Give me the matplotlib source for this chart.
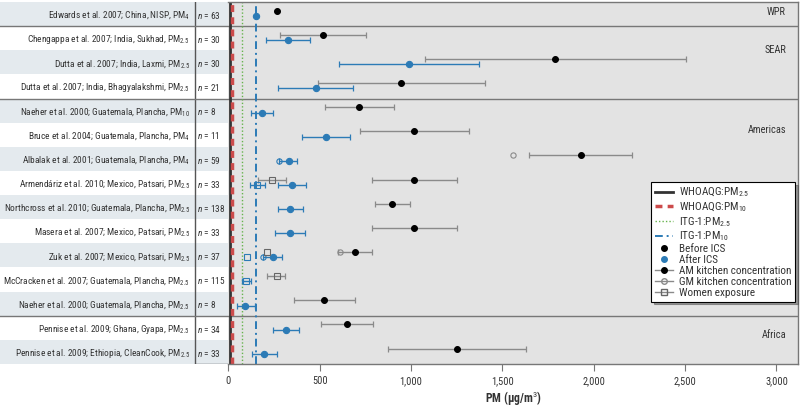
import numpy as np
import matplotlib
matplotlib.use("Agg")
import matplotlib.pyplot as plt
import matplotlib.transforms as mtransforms
from matplotlib import font_manager as fm
from matplotlib.lines import Line2D
from matplotlib.ticker import FuncFormatter

# pick a narrow face if one is installed, else plain Liberation Sans
installed = {(f.name, f.stretch) for f in fm.fontManager.ttflist}
family, stretch = "Liberation Sans", "normal"
for name, st in [("Liberation Sans Narrow", "condensed"), ("Roboto Condensed", "normal"),
                 ("Open Sans Condensed", "condensed"), ("Noto Sans", "condensed"),
                 ("Roboto", "condensed"), ("Open Sans", "condensed"),
                 ("DejaVu Sans", "condensed")]:
    if any(n == name and (s == st or st == "normal") for n, s in installed):
        family, stretch = name, st
        break

plt.rcParams["font.family"] = [family, "DejaVu Sans"]
plt.rcParams["font.stretch"] = stretch
plt.rcParams["mathtext.fontset"] = "custom"
plt.rcParams["mathtext.rm"] = f"{family}:stretch={stretch}"
plt.rcParams["mathtext.it"] = f"{family}:italic:stretch={stretch}"
plt.rcParams["mathtext.bf"] = f"{family}:bold:stretch={stretch}"

nan = np.nan

# ---- data ----
studies = [
    "Edwards et al. 2007; China, NISP, PM$_{4}$",
    "Chengappa et al. 2007; India, Sukhad, PM$_{2.5}$",
    "Dutta et al. 2007; India, Laxmi, PM$_{2.5}$",
    "Dutta et al. 2007; India, Bhagyalakshmi, PM$_{2.5}$",
    "Naeher et al. 2000; Guatemala, Plancha, PM$_{10}$",
    "Bruce et al. 2004; Guatemala, Plancha, PM$_{4}$",
    "Albalak et al. 2001; Guatemala, Plancha, PM$_{4}$",
    "Armendáriz et al. 2010; Mexico, Patsari, PM$_{2.5}$",
    "Northcross et al. 2010; Guatemala, Plancha, PM$_{2.5}$",
    "Masera et al. 2007; Mexico, Patsari, PM$_{2.5}$",
    "Zuk et al. 2007; Mexico, Patsari, PM$_{2.5}$",
    "McCracken et al. 2007; Guatemala, Plancha, PM$_{2.5}$",
    "Naeher et al. 2000; Guatemala, Plancha, PM$_{2.5}$",
    "Pennise et al. 2009; Ghana, Gyapa, PM$_{2.5}$",
    "Pennise et al. 2009; Ethiopia, CleanCook, PM$_{2.5}$",
]
n_vals = [63, 30, 30, 21, 8, 11, 59, 33, 138, 33, 37, 115, 8, 34, 33]

# AM kitchen concentration, before / after ICS (mean, lower, upper)
before_am = [266, 520, 1788, 945, 717, 1018, 1930, 1018, 898, 1018, 692, nan, 526, 648, 1250]
before_lo = [nan, 285, 1078, 493, 528, 719, 1648, 788, 801, 786, 599, nan, 360, 506, 872]
before_hi = [nan, 752, 2503, 1407, 907, 1317, 2211, 1253, 996, 1253, 788, nan, 692, 794, 1628]
after_am = [150, 328, 989, 478, 184, 535, 330, 347, 338, 338, 243, nan, 93, 316, 197]
after_lo = [nan, 206, 608, 272, 124, 403, 280, 270, 272, 256, 192, nan, 49, 246, 131]
after_hi = [nan, 449, 1372, 684, 243, 666, 378, 427, 409, 420, 294, nan, 144, 389, 265]

# GM kitchen concentration
before_gm = [nan, nan, nan, nan, nan, nan, 1560, nan, nan, nan, 611, nan, nan, nan, nan]
after_gm = [nan, nan, nan, nan, nan, nan, 278, nan, nan, nan, 192, nan, nan, nan, nan]

# women exposure
before_w = [nan, nan, nan, nan, nan, nan, nan, 237, nan, nan, 210, 265, nan, nan, nan]
before_w_lo = [nan, nan, nan, nan, nan, nan, nan, 161, nan, nan, nan, 213, nan, nan, nan]
before_w_hi = [nan, nan, nan, nan, nan, nan, nan, 316, nan, nan, nan, 310, nan, nan, nan]
after_w = [nan, nan, nan, nan, nan, nan, nan, 157, nan, nan, 104, 99, nan, nan, nan]
after_w_lo = [nan, nan, nan, nan, nan, nan, nan, 119, nan, nan, nan, 77, nan, nan, nan]
after_w_hi = [nan, nan, nan, nan, nan, nan, nan, 201, nan, nan, nan, 122, nan, nan, nan]

regions = ["WPR", "SEAR", "Americas", "Africa"]
region_label_y = [0.4, 2.0, 5.3, 13.8]
region_breaks = [1, 4, 13]

guidelines = [10, 20, 75, 150]
guideline_names = ["WHOAQG:PM$_{2.5}$", "WHOAQG:PM$_{10}$", "ITG-1:PM$_{2.5}$", "ITG-1:PM$_{10}$"]

xticks = [0, 500, 1000, 1500, 2000, 2500, 3000]

# ---- styles ----
BLUE = "#2c7bb6"
GRAY = "#8a8a8a"
BG = "#e3e3e3"
BAND = "#e4eaee"
TXT = "#333333"
off_before, off_after = -0.14, 0.08

W, H = 800, 408
fig = plt.figure(figsize=(W / 100, H / 100), dpi=100)
x0, x1, ytop, ybot = 228.3, 798, 2, 364
nrows = len(studies)

ax = fig.add_axes([x0 / W, 1 - ybot / H, (x1 - x0) / W, (ybot - ytop) / H])
axl = fig.add_axes([0, 1 - ybot / H, x0 / W, (ybot - ytop) / H], zorder=-1)

# label column
axl.set_xlim(0, x0)
axl.set_ylim(nrows, 0)
axl.axis("off")
study_txt, n_txt = [], []
for i in range(nrows):
    if i % 2 == 0:
        axl.axhspan(i, i + 1, color=BAND, lw=0)
    study_txt.append(axl.text(190, i + 0.55, studies[i], ha="right", va="center",
                              fontsize=8, color=TXT))
    n_txt.append(axl.text(197, i + 0.55, f"$n$ = {n_vals[i]}", ha="left", va="center",
                          fontsize=8, color=TXT))
axl.plot([195, 195], [0, nrows], color="#555555", lw=1)
axl.plot([195, x0], [nrows, nrows], color="#555555", lw=1)
for b in region_breaks:
    axl.plot([0, x0], [b, b], color="#777777", lw=1)

# shrink the label text if the face is too wide for the columns
renderer = fig.canvas.get_renderer()
wmax = max(t.get_window_extent(renderer).width for t in study_txt)
nmax = max(t.get_window_extent(renderer).width for t in n_txt)
lab_fs = 8 * min(1.0, 187 / wmax, 30 / nmax)
for t in study_txt + n_txt:
    t.set_fontsize(lab_fs)

# main panel
ax.set_facecolor(BG)
ax.set_xlim(0, 3118)
ax.set_ylim(nrows, 0)
ax.set_yticks([])
for s in ["top", "right", "bottom"]:
    ax.spines[s].set_color("#777777")
    ax.spines[s].set_linewidth(1)
ax.spines["left"].set_visible(False)
ax.set_xticks(xticks)
ax.xaxis.set_major_formatter(FuncFormatter(lambda v, p: f"{int(v):,}"))
ax.tick_params(axis="x", colors="#777777", labelcolor=TXT, labelsize=7.5, length=5, direction="out")

for b in region_breaks:
    ax.axhline(b, color="#777777", lw=1, zorder=1)

g_styles = [
    dict(color="#333333", lw=2.0, ls="-"),
    dict(color="#cc4b4b", lw=2.5, ls=(0, (2, 1.5))),
    dict(color="#66b34d", lw=1.0, ls=(0, (1, 1.5))),
    dict(color=BLUE, lw=1.4, ls=(0, (4, 2, 1, 2))),
]
for g, st in zip(guidelines, g_styles):
    ax.axvline(g, zorder=2, **st)


def draw(vals, lo, hi, off, mcolor, ecolor, marker, mfc, ms):
    for i in range(nrows):
        v = vals[i]
        if np.isnan(v):
            continue
        y = i + 0.5 + off
        if not np.isnan(lo[i]):
            ax.errorbar([v], [y], xerr=[[v - lo[i]], [hi[i] - v]], fmt="none",
                        ecolor=ecolor, elinewidth=1, capsize=2, capthick=0.9, zorder=3)
        ax.plot([v], [y], marker=marker, ms=ms, mfc=mfc, mec=mcolor, mew=0.8,
                ls="none", zorder=4)


empty = [nan] * nrows
draw(before_am, before_lo, before_hi, off_before, "black", GRAY, "o", "black", 4.2)
draw(after_am, after_lo, after_hi, off_after, BLUE, BLUE, "o", BLUE, 4.5)
draw(before_gm, empty, empty, off_before, GRAY, GRAY, "o", "none", 3.8)
draw(after_gm, empty, empty, off_after, BLUE, BLUE, "o", "none", 3.8)
draw(before_w, before_w_lo, before_w_hi, off_before, "#666666", GRAY, "s", "none", 3.8)
draw(after_w, after_w_lo, after_w_hi, off_after, BLUE, BLUE, "s", "none", 3.8)

trans = mtransforms.blended_transform_factory(ax.transAxes, ax.transData)
for r, y in zip(regions, region_label_y):
    ax.text(0.979, y, r, transform=trans, ha="right", va="center", fontsize=7.5, color=TXT)

ax.set_xlabel("PM (µg/m$^3$)", fontsize=8.5, fontweight="bold", color=TXT, labelpad=3)

handles = [Line2D([], [], **st) for st in g_styles]
handles += [
    Line2D([], [], ls="none", marker="o", color="black", ms=4),
    Line2D([], [], ls="none", marker="o", color=BLUE, ms=4),
    Line2D([], [], color=GRAY, lw=1, marker="o", mfc="black", mec="black", ms=4),
    Line2D([], [], color=GRAY, lw=1, marker="o", mfc="none", mec=GRAY, ms=4),
    Line2D([], [], color=GRAY, lw=1, marker="s", mfc="none", mec="#666666", ms=4),
]
labels = guideline_names + ["Before ICS", "After ICS", "AM kitchen concentration",
                            "GM kitchen concentration", "Women exposure"]
leg_fs = 8 if stretch == "condensed" or "Condensed" in family else 6.8
leg = ax.legend(handles, labels, loc="upper right", bbox_to_anchor=(0.9947, 0.503),
                fontsize=leg_fs, labelspacing=0.08, handlelength=1.6, handletextpad=0.5,
                borderpad=0.35, fancybox=False, shadow=True, framealpha=1,
                edgecolor="black", borderaxespad=0)
leg.get_frame().set_linewidth(0.8)
for t in leg.get_texts():
    t.set_color(TXT)

fig.savefig("out.png", dpi=100)
